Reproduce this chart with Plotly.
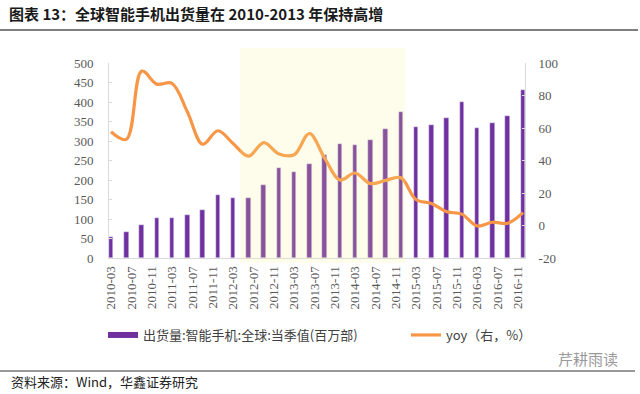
import plotly.graph_objects as go
import pandas as pd

# ---------------- data ----------------
dates = pd.date_range("2010-03-01", "2016-12-01", freq="3MS").strftime("%Y-%m-%d").tolist()
shipments = [55, 66, 84, 103, 102, 109, 124, 162, 153, 155, 188, 230, 220, 241,
             263, 293, 289, 302, 332, 375, 335, 342, 358, 400, 333, 347, 364, 431]
yoy = [57.7, 53, 95, 87, 87.5, 70, 50, 58.3, 50.5, 42.7, 51, 44, 43.5, 56.6,
       41.3, 28, 32.3, 25.8, 27.8, 29.4, 16, 13.6, 8.5, 7, -0.3, 2, 1.4, 7.9]
left_ticks = [0, 50, 100, 150, 200, 250, 300, 350, 400, 450, 500]
right_ticks = [-20, 0, 20, 40, 60, 80, 100]
right_ticktext = ["-20", "0", "20", "40", "60", "80", "100"]
bar_name = "出货量:智能手机:全球:当季值(百万部)"
line_name = "yoy（右，%）"
title_text = "图表 13：全球智能手机出货量在 2010-2013 年保持高增"
source_text = "资料来源：Wind，华鑫证券研究"
watermark_text = "芹耕雨读"

# ---------------- layout helpers (pixel -> paper) ----------------
W, H = 640, 394
PL, PR, PT, PB = 109, 525, 63, 258


def px(x):
    return (x - PL) / (PR - PL)


def py(y):
    return (PB - y) / (PB - PT)


PURPLE = "#7030A0"
ORANGE = "#F79646"
TICKFONT = dict(family="Times New Roman, Liberation Serif, serif", size=13, color="#595959")
CJK = "Noto Sans CJK SC"
LEGFONT = dict(family=CJK, size=13, color="#404040")

fig = go.Figure()
fig.add_trace(go.Bar(
    x=dates, y=shipments, name=bar_name, marker_color=PURPLE,
    width=28 * 86400000, showlegend=False, yaxis="y"))
# legend proxy for bar (flat wide rectangle like the reference)
fig.add_trace(go.Scatter(
    x=[None], y=[None], mode="lines", name=bar_name,
    line=dict(color=PURPLE, width=6), yaxis="y", legend="legend"))
fig.add_trace(go.Scatter(
    x=dates, y=yoy, name=line_name, mode="lines",
    line=dict(color=ORANGE, width=3.2, shape="spline", smoothing=1),
    yaxis="y2", legend="legend2"))

fig.update_layout(
    width=W, height=H,
    margin=dict(l=PL, r=W - PR, t=PT, b=H - PB),
    paper_bgcolor="white", plot_bgcolor="rgba(0,0,0,0)",
    showlegend=True,
    legend=dict(orientation="h", x=px(103), y=py(335), xanchor="left", yanchor="middle",
                font=LEGFONT, bgcolor="rgba(0,0,0,0)", itemwidth=30),
    legend2=dict(orientation="h", x=px(406), y=py(335), xanchor="left", yanchor="middle",
                 font=LEGFONT, bgcolor="rgba(0,0,0,0)", itemwidth=30),
    xaxis=dict(type="date", range=["2010-02-17", "2016-12-13"],
               tick0="2010-03-01", dtick="M4", tickformat="%Y-%m",
               tickangle=-90, tickfont=TICKFONT, showgrid=False,
               showline=True, linecolor="#D9D9D9", linewidth=1,
               ticks="", ticklabelstandoff=2, zeroline=False),
    yaxis=dict(range=[0, 500], tickvals=left_ticks, tickfont=TICKFONT,
               showgrid=False, zeroline=False, showline=True,
               linecolor="#D9D9D9", linewidth=1, ticks="inside", ticklen=3,
               tickcolor="#D9D9D9", ticklabelstandoff=12),
    yaxis2=dict(range=[-20, 100], tickvals=right_ticks, ticktext=right_ticktext,
                overlaying="y", side="right", tickfont=TICKFONT,
                showgrid=False, zeroline=False, showline=True,
                linecolor="#D9D9D9", linewidth=1, ticks="inside", ticklen=3,
                tickcolor="#D9D9D9", ticklabelstandoff=10),
    bargap=0,
)

shapes = [
    # highlighted period
    dict(type="rect", xref="paper", yref="paper", x0=px(240), x1=px(405),
         y0=py(263), y1=py(48), fillcolor="rgba(250,240,140,0.18)",
         line=dict(width=0), layer="above"),
    # title underline
    dict(type="line", xref="paper", yref="paper", x0=px(0), x1=px(638),
         y0=py(30), y1=py(30), line=dict(color="#555555", width=1.5)),
    # source line
    dict(type="line", xref="paper", yref="paper", x0=px(0), x1=px(635),
         y0=py(371), y1=py(371), line=dict(color="#333333", width=1)),
]
fig.update_layout(shapes=shapes)

fig.add_annotation(text="<b>" + title_text + "</b>", xref="paper", yref="paper",
                   x=px(7), y=py(13), xanchor="left", yanchor="middle",
                   showarrow=False, font=dict(family=CJK, size=15, color="#1a1a1a"))
fig.add_annotation(text=source_text, xref="paper", yref="paper",
                   x=px(9), y=py(381), xanchor="left", yanchor="middle",
                   showarrow=False, font=dict(family=CJK, size=13, color="#222222"))
fig.add_annotation(text=watermark_text, xref="paper", yref="paper",
                   x=px(556), y=py(358), xanchor="left", yanchor="middle",
                   showarrow=False, font=dict(family=CJK, size=15, color="#9a9a9a"))

fig.write_html("out.html", config={"displayModeBar": False},
               post_script="document.body.style.margin='0';document.body.style.overflow='hidden';")
